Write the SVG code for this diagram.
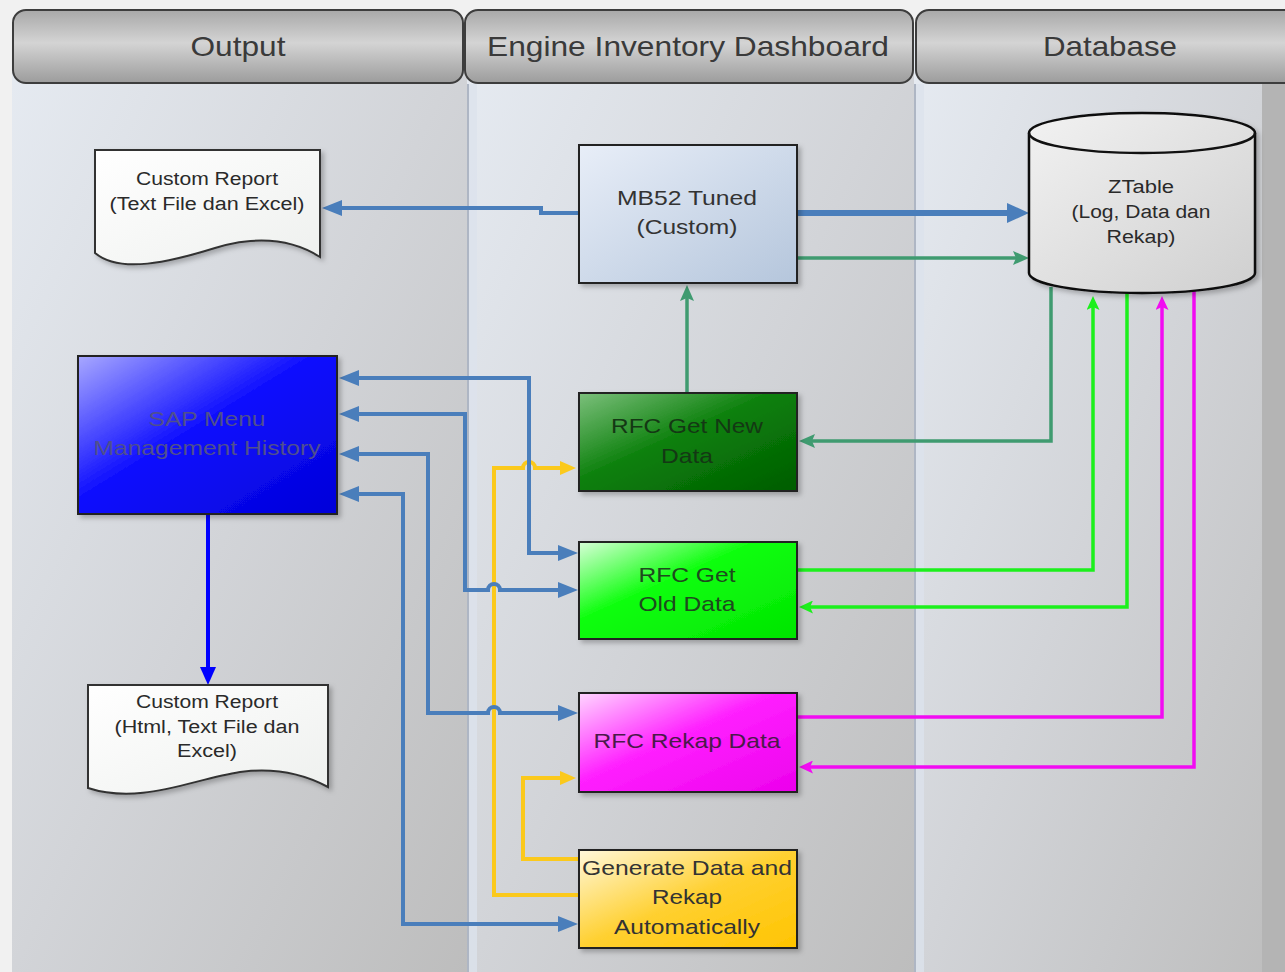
<svg xmlns="http://www.w3.org/2000/svg" width="1285" height="972" viewBox="0 0 1285 972">
<defs>
<style>
text{font-family:"Liberation Sans",Arial,sans-serif;text-anchor:middle;fill:#333}
.hd{font-size:28px;fill:#3a3a3a}
.nt{font-size:21px}
.dt{font-size:18px;fill:#2a2a2a}
.hdr{fill:url(#gHdr);stroke:#3d3d3d;stroke-width:2}
.box{stroke:#222;stroke-width:2}
.c{fill:none;stroke-linejoin:miter}
.cb{stroke:#4a7ebb;stroke-width:4}
.ct{stroke:#3f9b70;stroke-width:3.5}
.cg{stroke:#1cf01c;stroke-width:3.5}
.cm{stroke:#f20cf2;stroke-width:3.5}
.cy{stroke:#fbc91c;stroke-width:4}
</style>
<linearGradient id="gLane" x1="0" y1="0" x2="1" y2="1">
<stop offset="0" stop-color="#e6ebf2"/><stop offset="0.5" stop-color="#d2d4d8"/><stop offset="1" stop-color="#bdbdbd"/>
</linearGradient>
<linearGradient id="gHdr" x1="0" y1="0" x2="0" y2="1">
<stop offset="0" stop-color="#a8a8a8"/><stop offset="0.45" stop-color="#d4d4d4"/><stop offset="1" stop-color="#9c9c9c"/>
</linearGradient>
<linearGradient id="gMB" x1="0" y1="0" x2="1" y2="1"><stop offset="0" stop-color="#e8eef8"/><stop offset="1" stop-color="#b5c6dc"/></linearGradient>
<linearGradient id="gNew" x1="0" y1="0" x2="1" y2="1"><stop offset="0" stop-color="#7cc07c"/><stop offset="0.45" stop-color="#0c800c"/><stop offset="1" stop-color="#005c00"/></linearGradient>
<linearGradient id="gOld" x1="0" y1="0" x2="1" y2="1"><stop offset="0" stop-color="#d8ffd8"/><stop offset="0.4" stop-color="#10ff10"/><stop offset="1" stop-color="#00e400"/></linearGradient>
<linearGradient id="gRek" x1="0" y1="0" x2="1" y2="1"><stop offset="0" stop-color="#ffd6ff"/><stop offset="0.45" stop-color="#ff20ff"/><stop offset="1" stop-color="#ec00ec"/></linearGradient>
<linearGradient id="gGen" x1="0" y1="0" x2="1" y2="1"><stop offset="0" stop-color="#fff8dc"/><stop offset="0.5" stop-color="#ffd030"/><stop offset="1" stop-color="#ffc400"/></linearGradient>
<linearGradient id="gSap" x1="0" y1="0" x2="1" y2="1"><stop offset="0" stop-color="#a8a8ff"/><stop offset="0.45" stop-color="#1010ff"/><stop offset="1" stop-color="#0000d8"/></linearGradient>
<linearGradient id="gDoc" x1="0" y1="0" x2="1" y2="1"><stop offset="0" stop-color="#ffffff"/><stop offset="1" stop-color="#eef0ee"/></linearGradient>
<linearGradient id="gCyl" x1="0" y1="0" x2="1" y2="1"><stop offset="0" stop-color="#f2f2f2"/><stop offset="1" stop-color="#cfcfcf"/></linearGradient>
<filter id="sh" x="-10%" y="-10%" width="125%" height="130%"><feDropShadow dx="3" dy="3" stdDeviation="2.5" flood-color="#000" flood-opacity="0.25"/></filter>
<marker id="aB" markerUnits="userSpaceOnUse" markerWidth="20" markerHeight="16" refX="3" refY="8" orient="auto-start-reverse"><path d="M0,0 L20,8 L0,16 Z" fill="#4a7ebb"/></marker>
<marker id="aBT" markerUnits="userSpaceOnUse" markerWidth="22" markerHeight="20" refX="3" refY="10" orient="auto"><path d="M0,0 L22,10 L0,20 Z" fill="#4a7ebb"/></marker>
<marker id="aT" markerUnits="userSpaceOnUse" markerWidth="16" markerHeight="14" refX="3" refY="7" orient="auto"><path d="M0,0 L16,7 L0,14 L3,7 Z" fill="#3f9b70"/></marker>
<marker id="aG" markerUnits="userSpaceOnUse" markerWidth="14" markerHeight="13" refX="3" refY="6.5" orient="auto"><path d="M0,0 L14,6.5 L0,13 L3,6.5 Z" fill="#1cf01c"/></marker>
<marker id="aM" markerUnits="userSpaceOnUse" markerWidth="14" markerHeight="13" refX="3" refY="6.5" orient="auto"><path d="M0,0 L14,6.5 L0,13 L3,6.5 Z" fill="#f20cf2"/></marker>
<marker id="aY" markerUnits="userSpaceOnUse" markerWidth="16" markerHeight="14" refX="3" refY="7" orient="auto"><path d="M0,0 L16,7 L0,14 Z" fill="#fbc91c"/></marker>
<marker id="aS" markerUnits="userSpaceOnUse" markerWidth="18" markerHeight="16" refX="3" refY="8" orient="auto"><path d="M0,0 L18,8 L0,16 Z" fill="#0000ff"/></marker>
</defs>

<g id="background">
<rect x="0" y="0" width="1285" height="972" fill="#f1f1f1"/>
<rect x="12" y="40" width="455" height="932" fill="url(#gLane)"/>
<rect x="467" y="40" width="447" height="932" fill="url(#gLane)"/>
<rect x="914" y="40" width="371" height="932" fill="url(#gLane)"/>
<rect x="1262" y="40" width="23" height="932" fill="#b4b4b4"/>
<rect x="467" y="84" width="10" height="888" fill="#dce2ec" opacity="0.8"/>
<rect x="914" y="84" width="10" height="888" fill="#dce2ec" opacity="0.8"/>
<line x1="468" y1="84" x2="468" y2="972" stroke="#aeb6c4" stroke-width="2"/>
<line x1="915" y1="84" x2="915" y2="972" stroke="#aeb6c4" stroke-width="2"/>
</g>

<g id="lane-output"><rect class="hdr" x="13" y="10" width="450" height="73" rx="13"/><text class="hd" x="238" y="56" textLength="95" lengthAdjust="spacingAndGlyphs">Output</text></g>
<g id="lane-dashboard"><rect class="hdr" x="465" y="10" width="448" height="73" rx="13"/><text class="hd" x="688" y="56" textLength="402" lengthAdjust="spacingAndGlyphs">Engine Inventory Dashboard</text></g>
<g id="lane-database"><rect class="hdr" x="916" y="10" width="390" height="73" rx="13"/><text class="hd" x="1110" y="56" textLength="134" lengthAdjust="spacingAndGlyphs">Database</text></g>

<g id="connectors">
<path class="c cb" d="M579,213 H541 V208 H339" marker-end="url(#aB)"/>
<path class="c" d="M797,213 H1010" stroke="#4a7ebb" stroke-width="6" marker-end="url(#aBT)"/>
<path class="c ct" d="M797,258 H1016" marker-end="url(#aT)"/>
<path class="c ct" d="M687,393 V298" marker-end="url(#aT)"/>
<path class="c ct" d="M1051,287 V441 H812" marker-end="url(#aT)"/>
<path class="c cg" d="M797,570 H1093 V307" marker-end="url(#aG)"/>
<path class="c cg" d="M1127,293 V607 H810" marker-end="url(#aG)"/>
<path class="c cm" d="M797,717 H1162 V307" marker-end="url(#aM)"/>
<path class="c cm" d="M1194,290 V767 H810" marker-end="url(#aM)"/>
<path class="c" d="M208,514 V670" stroke="#0000ff" stroke-width="4" marker-end="url(#aS)"/>
<path class="c cy" d="M579,895 H494 V468 H523 A6,6 0 0 1 535,468 H563" marker-end="url(#aY)"/>
<path class="c cy" d="M579,859 H523 V778 H563" marker-end="url(#aY)"/>
<path class="c cb" d="M356,378 H529 V553 H561" marker-start="url(#aB)" marker-end="url(#aB)"/>
<path class="c cb" d="M356,414 H465 V590 H488 A6,6 0 0 1 500,590 H561" marker-start="url(#aB)" marker-end="url(#aB)"/>
<path class="c cb" d="M356,454 H428 V713 H488 A6,6 0 0 1 500,713 H561" marker-start="url(#aB)" marker-end="url(#aB)"/>
<path class="c cb" d="M356,494 H403 V924 H561" marker-start="url(#aB)" marker-end="url(#aB)"/>
</g>

<g id="custom-report-1">
<path d="M95,150 H320 V257 C290,238 255,236 215,248 C170,262 120,274 95,253 Z" fill="url(#gDoc)" stroke="#333" stroke-width="2" filter="url(#sh)"/>
<text class="dt" x="207" y="185" textLength="142" lengthAdjust="spacingAndGlyphs">Custom Report</text>
<text class="dt" x="207" y="210" textLength="195" lengthAdjust="spacingAndGlyphs">(Text File dan Excel)</text>
</g>

<g id="mb52">
<rect class="box" x="579" y="145" width="218" height="138" fill="url(#gMB)" filter="url(#sh)"/>
<text class="nt" x="687" y="205" textLength="140" lengthAdjust="spacingAndGlyphs">MB52 Tuned</text>
<text class="nt" x="687" y="234" textLength="101" lengthAdjust="spacingAndGlyphs">(Custom)</text>
</g>

<g id="ztable">
<path d="M1029,133 A113,20 0 0 1 1255,133 V273 A113,20 0 0 1 1029,273 Z" fill="url(#gCyl)" stroke="#111" stroke-width="2.5" filter="url(#sh)"/>
<path d="M1029,133 A113,20 0 0 0 1255,133" fill="none" stroke="#111" stroke-width="2.5"/>
<text class="dt" x="1141" y="193" textLength="66" lengthAdjust="spacingAndGlyphs">ZTable</text>
<text class="dt" x="1141" y="218" textLength="139" lengthAdjust="spacingAndGlyphs">(Log, Data dan</text>
<text class="dt" x="1141" y="243" textLength="69" lengthAdjust="spacingAndGlyphs">Rekap)</text>
</g>

<g id="sap-menu">
<rect class="box" x="78" y="356" width="259" height="158" fill="url(#gSap)" filter="url(#sh)"/>
<text class="nt" x="207" y="426" textLength="117" lengthAdjust="spacingAndGlyphs" style="fill:#50508c">SAP Menu</text>
<text class="nt" x="207" y="455" textLength="227" lengthAdjust="spacingAndGlyphs" style="fill:#50508c">Management History</text>
</g>

<g id="rfc-new">
<rect class="box" x="579" y="393" width="218" height="98" fill="url(#gNew)" filter="url(#sh)"/>
<text class="nt" x="687" y="433" textLength="152" lengthAdjust="spacingAndGlyphs" style="fill:#143814">RFC Get New</text>
<text class="nt" x="687" y="463" textLength="52" lengthAdjust="spacingAndGlyphs" style="fill:#143814">Data</text>
</g>

<g id="rfc-old">
<rect class="box" x="579" y="542" width="218" height="97" fill="url(#gOld)" filter="url(#sh)"/>
<text class="nt" x="687" y="582" textLength="97" lengthAdjust="spacingAndGlyphs" style="fill:#1e4a1e">RFC Get</text>
<text class="nt" x="687" y="611" textLength="97" lengthAdjust="spacingAndGlyphs" style="fill:#1e4a1e">Old Data</text>
</g>

<g id="rfc-rekap">
<rect class="box" x="579" y="693" width="218" height="99" fill="url(#gRek)" filter="url(#sh)"/>
<text class="nt" x="687" y="748" textLength="187" lengthAdjust="spacingAndGlyphs" style="fill:#4a1a4a">RFC Rekap Data</text>
</g>

<g id="generate">
<rect class="box" x="579" y="850" width="218" height="98" fill="url(#gGen)" filter="url(#sh)"/>
<text class="nt" x="687" y="875" textLength="210" lengthAdjust="spacingAndGlyphs">Generate Data and</text>
<text class="nt" x="687" y="904" textLength="70" lengthAdjust="spacingAndGlyphs">Rekap</text>
<text class="nt" x="687" y="934" textLength="146" lengthAdjust="spacingAndGlyphs">Automatically</text>
</g>

<g id="custom-report-2">
<path d="M88,685 H328 V787 C300,772 270,768 240,772 C190,780 140,805 88,788 Z" fill="url(#gDoc)" stroke="#333" stroke-width="2" filter="url(#sh)"/>
<text class="dt" x="207" y="708" textLength="142" lengthAdjust="spacingAndGlyphs">Custom Report</text>
<text class="dt" x="207" y="733" textLength="185" lengthAdjust="spacingAndGlyphs">(Html, Text File dan</text>
<text class="dt" x="207" y="757" textLength="60" lengthAdjust="spacingAndGlyphs">Excel)</text>
</g>
</svg>
